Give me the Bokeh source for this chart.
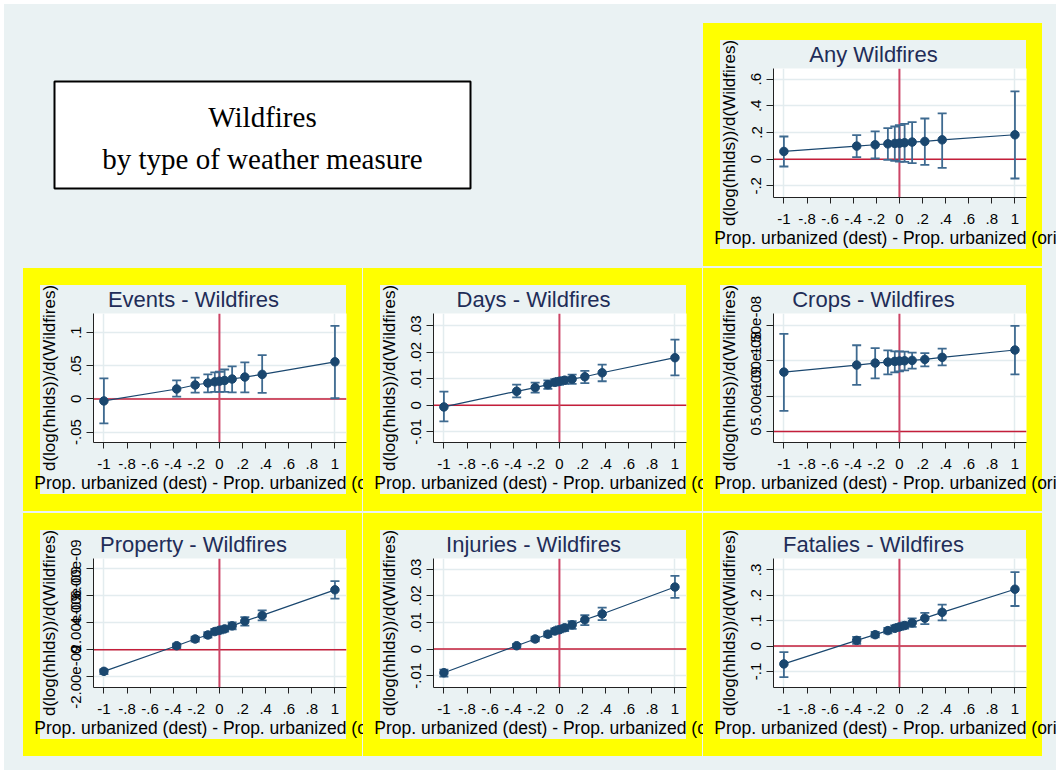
from bokeh.plotting import figure
from bokeh.layouts import column, row
from bokeh.models import BoxAnnotation, Span, Label, FixedTicker, ColumnDataSource
from bokeh.embed import file_html
from bokeh.resources import INLINE

# ---------------- data ----------------
x_pos = [-1, -0.37, -0.21, -0.1, -0.04, 0, 0.045, 0.11, 0.22, 0.37, 1]
x_ticks = [-1, -0.8, -0.6, -0.4, -0.2, 0, 0.2, 0.4, 0.6, 0.8, 1]
x_tick_labels = ["-1", "-.8", "-.6", "-.4", "-.2", "0", ".2", ".4", ".6", ".8", "1"]
x_title = "Prop. urbanized (dest) - Prop. urbanized (origin)"
y_title = "d(log(hhlds))/d(Wildfires)"

any_est = [0.058, 0.098, 0.108, 0.115, 0.118, 0.120, 0.123, 0.128, 0.133, 0.145, 0.183]
any_lo = [-0.055, 0.015, 0.005, -0.005, -0.013, -0.018, -0.020, -0.030, -0.043, -0.065, -0.145]
any_hi = [0.170, 0.180, 0.208, 0.233, 0.245, 0.255, 0.265, 0.278, 0.305, 0.343, 0.508]
any_yticks = [-0.2, 0, 0.2, 0.4, 0.6]
any_ylabels = ["-.2", "0", ".2", ".4", ".6"]

events_est = [-0.003, 0.015, 0.021, 0.024, 0.0258, 0.0268, 0.0278, 0.030, 0.033, 0.037, 0.056]
events_lo = [-0.037, 0.0035, 0.0096, 0.010, 0.0106, 0.0106, 0.0106, 0.010, 0.010, 0.009, 0.001]
events_hi = [0.031, 0.028, 0.032, 0.037, 0.040, 0.041, 0.0444, 0.049, 0.055, 0.066, 0.110]
events_yticks = [-0.05, 0, 0.05, 0.1]
events_ylabels = ["-.05", "0", ".05", ".1"]

days_est = [-0.0006, 0.0053, 0.0067, 0.0078, 0.0087, 0.0091, 0.0095, 0.0099, 0.0108, 0.0123, 0.0180]
days_lo = [-0.0061, 0.0030, 0.0048, 0.0062, 0.0075, 0.0077, 0.0081, 0.0081, 0.0084, 0.0091, 0.0113]
days_hi = [0.0052, 0.0078, 0.0086, 0.0094, 0.0099, 0.0104, 0.0106, 0.0116, 0.0130, 0.0154, 0.0248]
days_yticks = [-0.01, 0, 0.01, 0.02, 0.03]
days_ylabels = ["-.01", "0", ".01", ".02", ".03"]

crops_est = [0.84e-8, 0.94e-8, 0.968e-8, 0.982e-8, 0.992e-8, 0.997e-8, 1.000e-8, 1.006e-8, 1.020e-8, 1.049e-8, 1.153e-8]
crops_lo = [0.29e-8, 0.66e-8, 0.75e-8, 0.807e-8, 0.835e-8, 0.85e-8, 0.864e-8, 0.888e-8, 0.92e-8, 0.935e-8, 0.807e-8]
crops_hi = [1.381e-8, 1.22e-8, 1.18e-8, 1.149e-8, 1.134e-8, 1.134e-8, 1.13e-8, 1.115e-8, 1.11e-8, 1.172e-8, 1.495e-8]
crops_yticks = [0, 5e-9, 1e-8, 1.5e-8]
crops_ylabels = ["0", "5.00e-09", "1.00e-08", "1.50e-08"]

property_est = [-1.6e-9, 0.3e-9, 0.8e-9, 1.1e-9, 1.35e-9, 1.45e-9, 1.55e-9, 1.775e-9, 2.125e-9, 2.55e-9, 4.45e-9]
property_lo = [-1.8e-9, 0.125e-9, 0.6e-9, 0.9e-9, 1.15e-9, 1.225e-9, 1.35e-9, 1.525e-9, 1.8e-9, 2.175e-9, 3.8e-9]
property_hi = [-1.45e-9, 0.45e-9, 0.975e-9, 1.3e-9, 1.55e-9, 1.65e-9, 1.75e-9, 2.025e-9, 2.425e-9, 2.925e-9, 5.1e-9]
property_yticks = [-2e-9, 0, 2e-9, 4e-9, 6e-9]
property_ylabels = ["-2.00e-09", "0", "2.00e-09", "4.00e-09", "6.00e-09"]

injuries_est = [-0.00886, 0.00127, 0.0038, 0.0056, 0.0068, 0.0073, 0.0080, 0.0091, 0.0110, 0.0132, 0.0233]
injuries_lo = [-0.0103, 0.0004, 0.0029, 0.0046, 0.0058, 0.0063, 0.0068, 0.0076, 0.0090, 0.0109, 0.0192]
injuries_hi = [-0.0077, 0.0020, 0.0047, 0.0066, 0.0078, 0.0085, 0.0090, 0.0105, 0.0127, 0.0156, 0.0275]
injuries_yticks = [-0.01, 0, 0.01, 0.02, 0.03]
injuries_ylabels = ["-.01", "0", ".01", ".02", ".03"]

fatal_est = [-0.070, 0.0226, 0.045, 0.061, 0.070, 0.0757, 0.081, 0.0916, 0.110, 0.133, 0.224]
fatal_lo = [-0.122, 0.0093, 0.0345, 0.050, 0.060, 0.0637, 0.069, 0.0757, 0.0863, 0.101, 0.158]
fatal_hi = [-0.024, 0.036, 0.056, 0.072, 0.082, 0.0876, 0.093, 0.109, 0.131, 0.163, 0.291]
fatal_yticks = [-0.1, 0, 0.1, 0.2, 0.3]
fatal_ylabels = ["-.1", "0", ".1", ".2", ".3"]

# ---------------- style ----------------
BG = "#EAF2F3"
YEL = "#FFFF00"
NAVY = "#1A476F"
BAR = "#3E6A90"
TITLE_C = "#1F2D58"
RED = "#C41E3A"
SANS = "Liberation Sans"

X_START, X_END = -1.09, 1.10
FW, FH = 253, 129

# approximate Arial advance widths (per 1000 em) used to centre titles on the inner region
AW = {" ": 278, "-": 333, "A": 667, "C": 722, "D": 722, "E": 667, "F": 611, "I": 278, "P": 667,
      "W": 944, "a": 556, "c": 500, "d": 556, "e": 556, "f": 278, "g": 556, "h": 556, "i": 222,
      "j": 222, "l": 222, "n": 556, "o": 556, "p": 556, "r": 333, "s": 500, "t": 278, "u": 556,
      "v": 500, "y": 500, "z": 500}


def tile_styles(ox, oy, left_edge=False, top_edge=False):
    imgs = [f"linear-gradient({BG},{BG})", f"linear-gradient({YEL},{YEL})"]
    sizes = ["306px 209px", "339px 243px"]
    poss = [f"{ox + 17}px {oy + 17}px", f"{ox}px {oy}px"]
    if left_edge:
        imgs.append("linear-gradient(#ffffff,#ffffff)")
        sizes.append("4px 100%")
        poss.append("0px 0px")
    if top_edge:
        imgs.append("linear-gradient(#ffffff,#ffffff)")
        sizes.append("100% 4px")
        poss.append("0px 0px")
    return {"background-color": BG, "background-image": ", ".join(imgs),
            "background-size": ", ".join(sizes), "background-position": ", ".join(poss),
            "background-repeat": "no-repeat"}


def make_panel(title, est, lo, hi, y_start, y_end, yticks, ylabels, tw, th, ox, oy,
               left_edge=False, top_edge=False):
    p = figure(width=tw, height=th, x_range=(X_START, X_END), y_range=(y_start, y_end),
               output_backend="svg", toolbar_location=None,
               min_border_left=ox + 70, min_border_right=tw - (ox + 70 + FW),
               min_border_top=oy + 45, min_border_bottom=th - (oy + 45 + FH),
               background_fill_color="white", border_fill_color=None,
               outline_line_color=None, styles=tile_styles(ox, oy, left_edge, top_edge))

    # title centred on the inner graph region
    tw_px = sum(AW.get(c, 556) for c in title) * 22 / 1000.0
    p.title.text = title
    p.title.align = "left"
    p.title.offset = 100 - tw_px / 2
    p.title.text_font = SANS
    p.title.text_font_size = "22px"
    p.title.text_font_style = "normal"
    p.title.text_color = TITLE_C
    p.title.standoff = 4

    # grids
    p.ygrid.ticker = FixedTicker(ticks=yticks)
    p.xgrid.ticker = FixedTicker(ticks=[-1, 1])
    p.grid.grid_line_color = "#E3ECEF"
    p.grid.grid_line_width = 1.5

    # reference lines
    p.add_layout(Span(location=0, dimension="width", line_color=RED, line_width=1.5, level="underlay"))
    p.add_layout(Span(location=0, dimension="height", line_color="#CC4466", line_width=2, level="underlay"))

    src = ColumnDataSource(dict(x=x_pos, est=est, lo=lo, hi=hi))
    p.segment(x0="x", y0="lo", x1="x", y1="hi", source=src, line_color=BAR, line_width=1.8)
    p.scatter(x="x", y="lo", source=src, marker="dash", size=9, line_color=BAR, line_width=1.8)
    p.scatter(x="x", y="hi", source=src, marker="dash", size=9, line_color=BAR, line_width=1.8)
    p.line(x="x", y="est", source=src, line_color=NAVY, line_width=1.2)
    p.scatter(x="x", y="est", source=src, size=8.5, fill_color=NAVY, line_color=NAVY)

    # axes
    for ax in (p.xaxis[0], p.yaxis[0]):
        ax.axis_line_color = "#222222"
        ax.major_tick_line_color = "#222222"
        ax.minor_tick_line_color = None
        ax.major_tick_in = 0
        ax.major_label_text_font = SANS
        ax.major_label_text_font_size = "15px"
        ax.major_label_text_color = "black"
        ax.axis_label_text_font = SANS
        ax.axis_label_text_font_style = "normal"
        ax.axis_label_text_color = "black"
    xa, ya = p.xaxis[0], p.yaxis[0]
    xa.ticker = FixedTicker(ticks=x_ticks)
    xa.major_label_overrides = dict(zip(x_ticks, x_tick_labels))
    xa.major_tick_out = 6
    xa.major_label_standoff = 10
    xa.axis_label = x_title
    xa.axis_label_text_font_size = "17.5px"
    xa.axis_label_standoff = 1
    ya.ticker = FixedTicker(ticks=yticks)
    ya.major_label_overrides = dict(zip(yticks, ylabels))
    ya.major_label_orientation = "vertical"
    ya.major_tick_out = 7
    ya.major_label_standoff = 5
    ya.axis_label = y_title
    ya.axis_label_text_font_size = "17px"
    ya.axis_label_standoff = 10
    return p


# title tile (covers the two left columns of the first row)
TP_W, TP_H, TP_OY = 703, 267, 23
tp = figure(width=TP_W, height=TP_H, x_range=(0, TP_W), y_range=(0, FH), x_axis_type=None, y_axis_type=None,
            output_backend="svg", toolbar_location=None,
            min_border_left=0, min_border_right=0, min_border_top=TP_OY + 45,
            min_border_bottom=TP_H - (TP_OY + 45 + FH), outline_line_color=None,
            background_fill_color=None, border_fill_color=None,
            styles={"background-color": BG,
                    "background-image": "linear-gradient(#ffffff,#ffffff), linear-gradient(#ffffff,#ffffff)",
                    "background-size": "4px 100%, 100% 4px", "background-position": "0px 0px, 0px 0px",
                    "background-repeat": "no-repeat"})
tp.grid.visible = False
tp.add_layout(BoxAnnotation(left=54, right=470, bottom=9, top=116, fill_color="white", fill_alpha=1.0,
                            line_color="black", line_alpha=1.0, line_width=2))
tp.add_layout(Label(x=262, y=81, text="Wildfires", text_align="center", text_baseline="alphabetic",
                    text_font="Liberation Serif", text_font_size="29px", text_color="black"))
tp.add_layout(Label(x=262, y=39, text="by type of weather measure", text_align="center",
                    text_baseline="alphabetic", text_font="Liberation Serif", text_font_size="29px",
                    text_color="black"))

C1W, C2W, C3W = 363, 340, 353
R1H, R2H, R3H = 267, 245, 258

p_any = make_panel("Any Wildfires", any_est, any_lo, any_hi, -0.2875, 0.68, any_yticks, any_ylabels,
                   C3W, R1H, 0, 23, top_edge=True)
p_ev = make_panel("Events - Wildfires", events_est, events_lo, events_hi, -0.0657, 0.1288, events_yticks,
                  events_ylabels, C1W, R2H, 23, 1, left_edge=True)
p_dy = make_panel("Days - Wildfires", days_est, days_lo, days_hi, -0.01405, 0.0347, days_yticks, days_ylabels,
                  C2W, R2H, 0, 1)
p_cr = make_panel("Crops - Wildfires", crops_est, crops_lo, crops_hi, -0.157e-8, 1.67e-8, crops_yticks,
                  crops_ylabels, C3W, R2H, 0, 1)
p_pr = make_panel("Property - Wildfires", property_est, property_lo, property_hi, -2.8e-9, 6.775e-9,
                  property_yticks, property_ylabels, C1W, R3H, 23, 1, left_edge=True)
p_in = make_panel("Injuries - Wildfires", injuries_est, injuries_lo, injuries_hi, -0.0144, 0.034,
                  injuries_yticks, injuries_ylabels, C2W, R3H, 0, 1)
p_fa = make_panel("Fatalies - Wildfires", fatal_est, fatal_lo, fatal_hi, -0.163, 0.345, fatal_yticks,
                  fatal_ylabels, C3W, R3H, 0, 1)

layout = column(row(tp, p_any, spacing=0), row(p_ev, p_dy, p_cr, spacing=0),
                row(p_pr, p_in, p_fa, spacing=0), spacing=0)

open("out.html", "w").write(file_html(layout, INLINE))
